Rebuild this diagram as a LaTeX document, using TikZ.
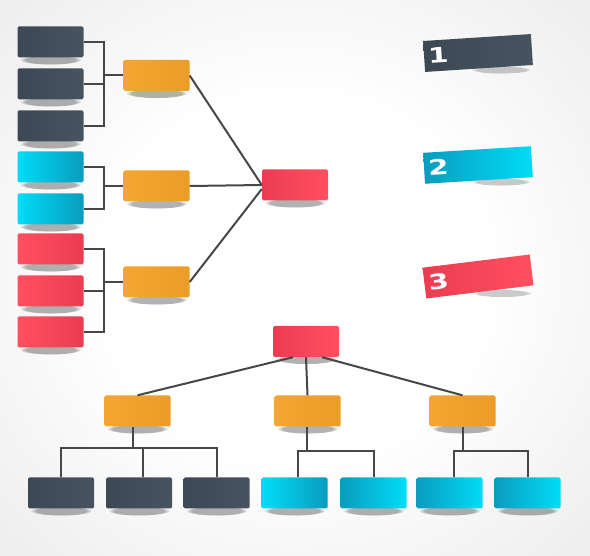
\documentclass[tikz,border=0pt]{standalone}
\usepackage{fontspec}
\newfontfamily\tagfont{DejaVu Sans}
\usetikzlibrary{fadings,backgrounds}

\definecolor{slate}{HTML}{3C4854}
\definecolor{slateB}{HTML}{47535F}
\definecolor{skyA}{HTML}{00DCF7}
\definecolor{skyB}{HTML}{0A9CBE}
\definecolor{rose}{HTML}{FF4F60}
\definecolor{roseB}{HTML}{EC3C52}
\definecolor{amber}{HTML}{F3A631}
\definecolor{amberB}{HTML}{EC9C28}
\definecolor{wire}{HTML}{474747}
\definecolor{paper}{HTML}{E0E0E0}

\pgfdeclareradialshading{paperfade}{\pgfpointorigin}{color(0bp)=(white); color(16bp)=(white); color(50bp)=(paper); color(75bp)=(paper)}

\newcommand{\tagnum}[1]{\scalebox{1.4}[1]{#1}}

\tikzset{
  card/.style={rounded corners=1.5pt, inner sep=0pt, minimum width=66, minimum height=31},
  slatebox/.style={card, left color=slate, right color=slateB},
  skybox/.style={card, left color=skyA, right color=skyB},
  skyrev/.style={card, left color=skyB, right color=skyA},
  rosebox/.style={card, left color=rose, right color=roseB},
  roserev/.style={card, left color=roseB, right color=rose},
  amberbox/.style={card, left color=amber, right color=amberB},
  tag/.style={inner xsep=4pt, inner ysep=0pt, minimum width=108, minimum height=31,
    text width=100, align=left, text=white, font=\tagfont\bfseries\fontsize{21}{21}\selectfont},
  link/.style={draw=wire, line width=2pt},
  blur/.style={fill=black, opacity=.3, path fading=circle with fuzzy edge 20 percent}
}

\begin{document}
\begin{tikzpicture}[x=1pt, y=-1pt]
\useasboundingbox (0,0) rectangle (590,556);

% left column
\node[slatebox] (d1) at (50.5,42) {};
\node[slatebox] (d2) at (50.5,84) {};
\node[slatebox] (d3) at (50.5,126) {};
\node[skybox] (c1) at (50.5,167) {};
\node[skybox] (c2) at (50.5,209) {};
\node[rosebox] (r1) at (50.5,249) {};
\node[rosebox] (r2) at (50.5,291) {};
\node[rosebox] (r3) at (50.5,332) {};

\node[amberbox] (o1) at (156.5,75.5) {};
\node[amberbox] (o2) at (156.5,186) {};
\node[amberbox] (o3) at (156.5,282) {};

\node[roserev] (hub) at (295,185) {};

\draw[link] (d1.east) -- ++(20,0) |- (d3.east);
\draw[link] (d2.east) -- ++(20,0);
\draw[link] (o1.west) -- ++(-19,0);
\draw[link] (c1.east) -- ++(20,0) |- (c2.east);
\draw[link] (o2.west) -- ++(-19,0);
\draw[link] (r1.east) -- ++(20,0) |- (r3.east);
\draw[link] (r2.east) -- ++(20,0);
\draw[link] (o3.west) -- ++(-19,0);

\draw[link] (o1.east) -- (hub.west);
\draw[link] (o2.east) -- (hub.west);
\draw[link] (o3.east) -- ([yshift=-4pt]hub.west);

% numbered tags
\node[tag, rotate=3.7, left color=slate, right color=slateB] (t1) at (478,53) {\tagnum{1}};
\node[tag, rotate=3.5, left color=skyB, right color=skyA] (t2) at (478,165) {\tagnum{2}};
\node[tag, rotate=7, left color=roseB, right color=rose] (t3) at (478,276.5) {\tagnum{3}};

% tree
\node[roserev] (root) at (306,341.5) {};
\node[amberbox] (oL) at (137.5,411) {};
\node[amberbox] (oM) at (307.5,411) {};
\node[amberbox] (oR) at (462.5,411) {};

\node[slatebox] (b1) at (61,493) {};
\node[slatebox] (b2) at (139,493) {};
\node[slatebox] (b3) at (216.5,493) {};
\node[skybox] (b4) at (294.5,493) {};
\node[skyrev] (b5) at (373.5,493) {};
\node[skyrev] (b6) at (449.5,493) {};
\node[skyrev] (b7) at (527.5,493) {};

\draw[link] ([xshift=-13pt]root.south) -- (oL.north);
\draw[link] (root.south) -- (oM.north);
\draw[link] ([xshift=16pt]root.south) -- (oR.north);

\coordinate (jL) at ([xshift=-5pt, yshift=-21pt]oL.south);
\coordinate (jM) at ([xshift=-1pt, yshift=-24pt]oM.south);
\coordinate (jR) at ([yshift=-24pt]oR.south);
\draw[link] ([xshift=-5pt]oL.south) -- (jL);
\draw[link] (b1.north) -- (b1.north |- jL) -- (b3.north |- jL) -- (b3.north);
\draw[link] ([xshift=4pt]b2.north) -- ([xshift=4pt]b2.north |- jL);
\draw[link] ([xshift=-1pt]oM.south) -- (jM);
\draw[link] ([xshift=3pt]b4.north) -- ([xshift=3pt]b4.north |- jM) -- (b5.north |- jM) -- (b5.north);
\draw[link] (oR.south) -- (jR);
\draw[link] ([xshift=4pt]b6.north) -- ([xshift=4pt]b6.north |- jR) -- (b7.north |- jR) -- (b7.north);

\begin{scope}[on background layer]
\shade[shading=paperfade] (0,0) rectangle (590,556);
\foreach \n in {d1,d2,d3,c1,c2,r1,r2,r3,o1,o2,o3,hub,root,oL,oM,oR,b1,b2,b3,b4,b5,b6,b7}
  \fill[blur] ([yshift=-2pt]\n.south) ellipse [x radius=31, y radius=5];
\foreach \n in {t1,t2,t3}
  \fill[blur, opacity=.2] ([xshift=22pt, yshift=-1pt]\n.south) ellipse [x radius=30, y radius=4];
\end{scope}
\end{tikzpicture}
\end{document}
